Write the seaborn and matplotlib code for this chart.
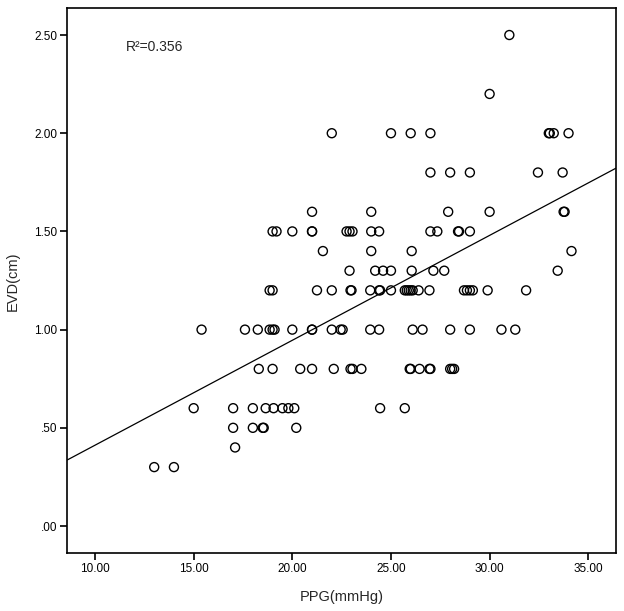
import seaborn as sns
import matplotlib.pyplot as plt
import matplotlib.ticker as mticker
import pandas as pd

# PPG readings grouped by EVD value
evd_levels = [2.5, 2.2, 2.0, 1.8, 1.6, 1.5, 1.4, 1.3, 1.2, 1.0, 0.8, 0.6, 0.5, 0.4, 0.3]
ppg_by_level = [
    [31.0],
    [30.0],
    [22.0, 25.0, 26.0, 27.0, 33.0, 33.05, 33.25, 34.0],
    [27.0, 28.0, 29.0, 32.45, 33.7],
    [21.0, 24.0, 27.9, 30.0, 33.75, 33.8],
    [19.0, 19.2, 20.0, 21.0, 21.0, 22.75, 22.9, 23.05, 24.0, 24.4,
     27.0, 27.35, 28.4, 28.45, 29.0],
    [21.55, 24.0, 26.05, 34.15],
    [22.9, 24.2, 24.6, 25.0, 26.05, 27.15, 27.7, 33.45],
    [18.85, 19.0, 21.25, 22.0, 22.95, 23.0, 23.95, 24.4, 24.45, 25.0,
     25.7, 25.8, 25.9, 26.0, 26.1, 26.4, 26.95, 28.7, 28.85, 29.0,
     29.15, 29.9, 31.85],
    [15.4, 17.6, 18.25, 18.85, 19.0, 19.1, 20.0, 21.0, 21.0, 22.0,
     22.45, 22.55, 23.95, 24.4, 26.1, 26.6, 28.0, 29.0, 30.6, 31.3],
    [18.3, 19.0, 20.4, 21.0, 22.1, 22.95, 23.05, 23.5, 25.95, 26.0,
     26.45, 26.95, 27.0, 28.0, 28.1, 28.2],
    [15.0, 17.0, 18.0, 18.65, 19.05, 19.5, 19.8, 20.1, 24.45, 25.7],
    [17.0, 18.0, 18.5, 18.55, 20.2],
    [17.1],
    [13.0, 14.0],
]

rows = []
for level, ppgs in zip(evd_levels, ppg_by_level):
    for p in ppgs:
        rows.append((p, level))
df = pd.DataFrame(rows, columns=["PPG(mmHg)", "EVD(cm)"])

sns.set_style("ticks")
plt.rcParams["font.family"] = ["Liberation Sans", "DejaVu Sans"]

fig = plt.figure(figsize=(6.24, 6.11), dpi=100)
ax = fig.add_axes([0.108, 0.0944, 0.879, 0.892])
ax.set_xlim(8.6, 36.4)
ax.set_ylim(-0.139, 2.636)

sns.regplot(
    data=df, x="PPG(mmHg)", y="EVD(cm)", ax=ax,
    ci=None, truncate=False,
    scatter_kws=dict(s=42, facecolors="none", edgecolors="black",
                     linewidths=1.0, alpha=1),
    line_kws=dict(color="black", lw=0.9),
)

ax.set_xticks([10, 15, 20, 25, 30, 35])
ax.set_yticks([0, 0.5, 1.0, 1.5, 2.0, 2.5])
ax.xaxis.set_major_formatter(mticker.FuncFormatter(lambda v, p: f"{v:.2f}"))
ax.yaxis.set_major_formatter(
    mticker.FuncFormatter(lambda v, p: f"{v:.2f}".lstrip("0") if v < 1 else f"{v:.2f}"))
ax.tick_params(direction="out", length=5, width=1.2, labelsize=8.5, colors="black", pad=2)

for s in ax.spines.values():
    s.set_linewidth(1.2)
    s.set_color("black")

ax.set_xlabel("PPG(mmHg)", fontsize=10.5, labelpad=11)
ax.set_ylabel("EVD(cm)", fontsize=10.5, labelpad=11)

ax.text(0.107, 0.929, "R²=0.356", transform=ax.transAxes, fontsize=10, va="center")

plt.savefig("out.png")
plt.close()
